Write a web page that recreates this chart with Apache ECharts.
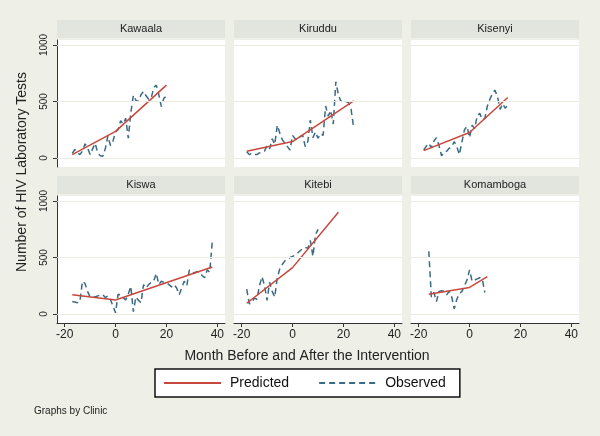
<!doctype html>
<html lang="en">
<head>
    <meta charset="UTF-8">
    <title>HIV Laboratory Tests by Clinic</title>
    <script src="https://cdn.jsdelivr.net/npm/echarts@6/dist/echarts.min.js"></script>
    <style>
        html, body { margin: 0; padding: 0; background: #eef0e8; }
        #main { width: 600px; height: 436px; }
    </style>
</head>
<body>
<div id="main"></div>
<script type="text/javascript">
    // clinics, in panel order
    var clinics = ['Kawaala', 'Kiruddu', 'Kisenyi', 'Kiswa', 'Kitebi', 'Komamboga'];

    // first month of the observed series for each clinic
    var obsStart = [-17, -18, -18, -17, -18, -16];

    // observed monthly test counts (one value per month from obsStart)
    var obsKawaala = [40, 75, 45, 30, 60, 125, 90, 30, 80, 130, 45, 20, 15, 85, 195, 110, 150, 230, 250, 330,
        300, 350, 175, 400, 555, 510, 500, 560, 590, 550, 520, 530, 620, 645, 560, 455, 530, 545];
    var obsKiruddu = [55, 30, 40, 30, 30, 45, 50, 60, 110, 80, 170, 120, 290, 220, 160, 130, 100, 70, 200, 170,
        160, 190, 200, 100, 145, 335, 180, 230, 175, 215, 200, 460, 370, 420, 300, 675, 560, 500, 510, 500,
        490, 430, 270];
    var obsKisenyi = [70, 105, 130, 90, 150, 180, 110, 20, 50, 60, 85, 100, 145, 100, 30, 140, 250, 280, 180, 290,
        260, 370, 395, 340, 350, 460, 520, 570, 600, 540, 430, 480, 440, 470];
    var obsKiswa = [110, 105, 100, 110, 290, 270, 200, 150, 155, 150, 160, 165, 170, 145, 160, 125, 70, 10, 175, 165,
        145, 125, 175, 245, 20, 150, 120, 100, 260, 230, 260, 280, 290, 360, 260, 290, 280, 275, 260, 240,
        260, 230, 170, 230, 290, 250, 390, 370, 365, 375, 370, 340, 320, 390, 370, 640];
    var obsKitebi = [220, 90, 100, 140, 130, 250, 330, 250, 120, 280, 200, 150, 320, 400, 440, 470, 480, 500, 510, 520,
        540, 560, 580, 590, 580, 650, 510, 700, 750];
    var obsKomamboga = [555, 150, 190, 110, 200, 205, 200, 170, 200, 150, 45, 130, 180, 200, 250, 300, 390, 290, 300, 310,
        320, 310, 190];
    var observed = [obsKawaala, obsKiruddu, obsKisenyi, obsKiswa, obsKitebi, obsKomamboga];

    // predicted (segmented regression): months and fitted values at start, intervention, end
    var predMonths = [[-17, 0, 20], [-18, 0, 24], [-18, 0, 15], [-17, 0, 38], [-18, 0, 18], [-16, 0, 7]];
    var predValues = [[30, 235, 645], [60, 145, 505], [65, 225, 535], [170, 123, 415], [95, 410, 900], [175, 235, 330]];

    // tick labels
    var xTicks = [-20, 0, 20, 40];
    var yTicks = [0, 500, 1000];

    (function () {
        var RED = '#c8473c';
        var BLUE = '#3a6a84';
        var FONT = 'Liberation Sans';

        var colLeft = [57, 234, 411];
        var rowTop = [40, 196];
        var cellW = 168, cellH = 127;

        var grids = [], xAxes = [], yAxes = [], series = [], graphics = [];

        clinics.forEach(function (name, i) {
            var row = Math.floor(i / 3), col = i % 3;
            var gx = colLeft[col], gy = rowTop[row];

            grids.push({
                left: gx, top: gy, width: cellW, height: cellH,
                show: true, backgroundColor: '#ffffff', borderWidth: 0
            });

            xAxes.push({
                gridIndex: i, type: 'value', min: -23, max: 43,
                show: row === 1,
                axisLine: {onZero: false, lineStyle: {color: '#333', width: 1}},
                axisTick: {customValues: xTicks, length: 4, lineStyle: {color: '#333'}},
                axisLabel: {customValues: xTicks, fontSize: 12, color: '#222', margin: 6},
                splitLine: {show: false}
            });

            yAxes.push({
                gridIndex: i, type: 'value', min: -80, max: 1044,
                show: col === 0,
                axisLine: {show: true, onZero: false, lineStyle: {color: '#333', width: 1}},
                axisTick: {customValues: yTicks, length: 4, lineStyle: {color: '#333'}},
                axisLabel: {
                    customValues: yTicks, rotate: 90, fontSize: 10, color: '#222', margin: 8,
                    formatter: function (v) { return String(v); }
                },
                splitLine: {show: false}
            });

            var start = obsStart[i];
            series.push({
                name: 'Observed', type: 'line', xAxisIndex: i, yAxisIndex: i, z: 2,
                symbol: 'none',
                data: observed[i].map(function (v, k) { return [start + k, v]; }),
                itemStyle: {color: BLUE},
                lineStyle: {color: BLUE, width: 1.5, type: [6, 4]},
                // horizontal grid lines at the tick values
                markLine: {
                    silent: true, symbol: 'none',
                    label: {show: false},
                    lineStyle: {color: '#ecede0', width: 1, type: 'solid'},
                    data: yTicks.map(function (v) { return {yAxis: v}; })
                }
            });

            var pm = predMonths[i], pv = predValues[i];
            series.push({
                name: 'Predicted', type: 'line', xAxisIndex: i, yAxisIndex: i, z: 3,
                symbol: 'none',
                data: pm.map(function (m, k) { return [m, pv[k]]; }),
                itemStyle: {color: RED},
                lineStyle: {color: RED, width: 1.5}
            });

            // panel header strip
            graphics.push({
                type: 'rect', shape: {x: gx, y: gy - 20, width: cellW, height: 18},
                style: {fill: '#e2e5de'}, silent: true
            });
            graphics.push({
                type: 'text', x: gx + cellW / 2, y: gy - 11,
                style: {text: name, fill: '#222', fontSize: 11, fontFamily: FONT, align: 'center', verticalAlign: 'middle'},
                silent: true
            });
        });

        graphics.push({
            type: 'text', x: 22, y: 172, rotation: Math.PI / 2,
            style: {text: 'Number of HIV Laboratory Tests', fill: '#222', fontSize: 14, fontFamily: FONT, align: 'center', verticalAlign: 'middle'}
        });
        graphics.push({
            type: 'text', x: 307, y: 356,
            style: {text: 'Month Before and After the Intervention', fill: '#222', fontSize: 14, fontFamily: FONT, align: 'center', verticalAlign: 'middle'}
        });
        graphics.push({
            type: 'text', x: 34, y: 411,
            style: {text: 'Graphs by Clinic', fill: '#222', fontSize: 10, fontFamily: FONT, align: 'left', verticalAlign: 'middle'}
        });

        var myChart = echarts.init(document.getElementById('main'));
        myChart.setOption({
            backgroundColor: '#eef0e8',
            animation: false,
            textStyle: {fontFamily: FONT},
            grid: grids,
            xAxis: xAxes,
            yAxis: yAxes,
            legend: {
                data: ['Predicted', 'Observed'],
                left: 155, top: 369,
                padding: [7, 14, 7, 8],
                itemWidth: 57, itemHeight: 14, itemGap: 29,
                itemStyle: {opacity: 0},
                backgroundColor: '#ffffff',
                borderColor: '#111', borderWidth: 1.5,
                selectedMode: false,
                textStyle: {fontSize: 14, color: '#111', padding: [0, 0, 0, 4]}
            },
            graphic: graphics,
            series: series
        });
    })();
</script>
</body>
</html>
